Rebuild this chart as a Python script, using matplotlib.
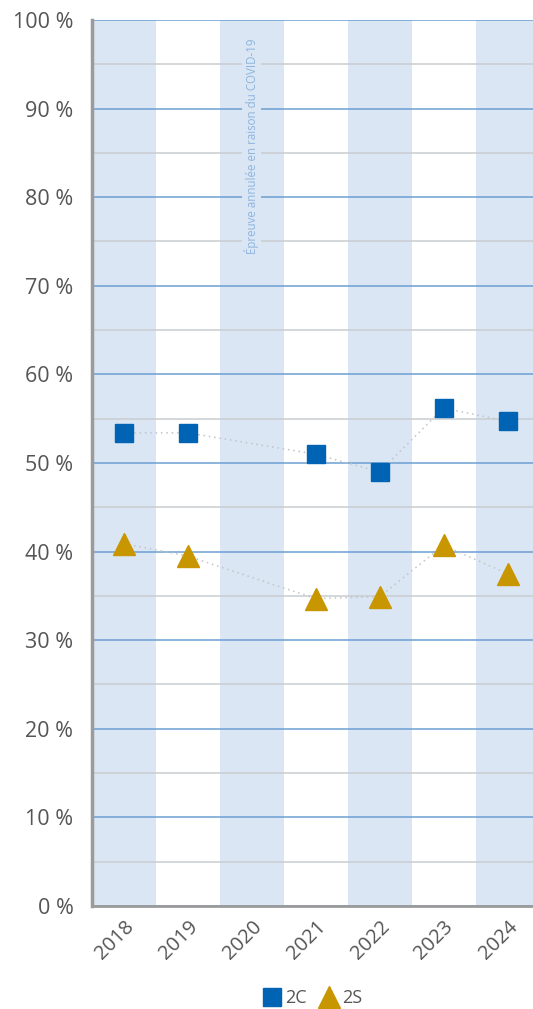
import numpy as np
import matplotlib.pyplot as plt
from matplotlib.lines import Line2D

plt.rcParams['font.family'] = ['Open Sans', 'DejaVu Sans']

years = ["2018", "2019", "2020", "2021", "2022", "2023", "2024"]
# 2020 has no exam (COVID-19)
vals_2c = [53.4, 53.4, np.nan, 51.0, 49.0, 56.2, 54.7]
vals_2s = [40.9, 39.5, np.nan, 34.7, 34.9, 40.7, 37.5]
yticks = [0, 10, 20, 30, 40, 50, 60, 70, 80, 90, 100]
note = "Épreuve annulée en raison du COVID-19"

blue = "#0063b4"
gold = "#c89600"
shade = "#dae6f3"
txt = "#555555"

fig = plt.figure(figsize=(5.33, 10.09), dpi=100)
# plot area runs a bit past the right edge of the image
ax = fig.add_axes([0.1717, 0.1021, 0.8405, 0.8781])

x = np.arange(len(years))
for i in x:
    if i % 2 == 0:
        ax.axvspan(i - 0.5, i + 0.5, color=shade, lw=0, zorder=0)

# grid: blue majors every 10, grey minors every 5
for v in yticks:
    ax.axhline(v, color="#6c9fd2", lw=1.1, zorder=1)
for v in range(5, 100, 10):
    ax.axhline(v, color="#c9cdd0", lw=1.1, zorder=1)

# dotted connectors (skip missing 2020)
ok = ~np.isnan(np.array(vals_2c))
ax.plot(x[ok], np.array(vals_2c)[ok], ls=(0, (1, 2.5)), color="#c4c4c4", lw=1.1, zorder=2)
ok = ~np.isnan(np.array(vals_2s))
ax.plot(x[ok], np.array(vals_2s)[ok], ls=(0, (1, 2.5)), color="#c4c4c4", lw=1.1, zorder=2)

ax.plot(x, vals_2c, ls="none", marker="s", ms=13, color=blue, mec=blue, zorder=3)
ax.plot(x, vals_2s, ls="none", marker="^", ms=15.5, color=gold, mec=gold, zorder=3)

ax.text(2, 85.7, note, rotation=90, ha="center", va="center", fontsize=8.3,
        color="#8db4df", zorder=2,
        bbox=dict(facecolor=shade, edgecolor="none", pad=1.5))

ax.set_xlim(-0.5, len(years) - 0.5)
ax.set_ylim(0, 100)
ax.set_yticks(yticks)
ax.set_yticklabels([f"{v} %" for v in yticks], fontsize=15.5, color=txt)
ax.set_xticks(x)
ax.set_xticklabels(years, rotation=45, ha="right", rotation_mode="anchor",
                   fontsize=14.5, color=txt)
ax.tick_params(axis="both", length=0)
ax.tick_params(axis="y", pad=13)
ax.tick_params(axis="x", pad=8)

for s in ["top", "right"]:
    ax.spines[s].set_visible(False)
ax.spines["left"].set_color("#9b9b9b")
ax.spines["left"].set_linewidth(2.5)
ax.spines["bottom"].set_color("#9b9b9b")
ax.spines["bottom"].set_linewidth(2)

handles = [Line2D([], [], ls="none", marker="s", ms=13, color=blue),
           Line2D([], [], ls="none", marker="^", ms=16, color=gold)]
fig.legend(handles, ["2C", "2S"], loc="center", bbox_to_anchor=(0.583, 0.011),
           ncol=2, frameon=False, fontsize=13, handletextpad=0.05,
           handlelength=1.4, columnspacing=0.5, labelcolor=txt)

fig.savefig("out.png", dpi=100)
